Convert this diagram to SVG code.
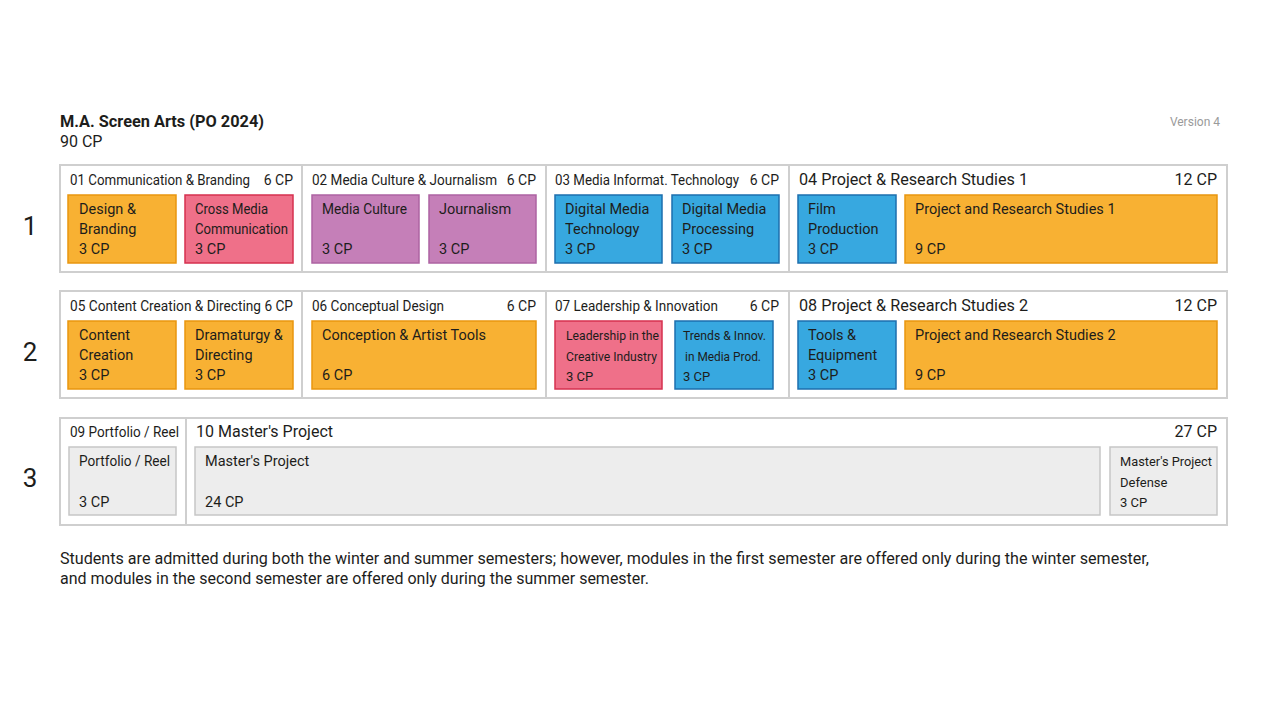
<svg xmlns="http://www.w3.org/2000/svg" width="1272" height="716" viewBox="0 0 1272 716">
<style>
text{font-family:Roboto,"Liberation Sans",sans-serif;fill:#1d1d1b}
.frame{fill:#fff;stroke:#cfcfcf;stroke-width:2}
.div{stroke:#cfcfcf;stroke-width:2}
.hd{font-size:14px}
.hl{font-size:16px}
.t{font-size:14.5px}
.ts{font-size:13px}
.r{text-anchor:end}
.sem{font-size:26px;text-anchor:middle}
.o{fill:#f8b133;stroke:#e9960f;stroke-width:1.5}
.p{fill:#ef7089;stroke:#d6304f;stroke-width:1.5}
.v{fill:#c57fb8;stroke:#ad63a2;stroke-width:1.5}
.b{fill:#37a8e0;stroke:#1d6fae;stroke-width:1.5}
.g{fill:#ededed;stroke:#c6c6c6;stroke-width:1.5}
</style>
<rect width="1272" height="716" fill="#fff"/>
<g id="title">
<text x="60" y="127" style="font-size:16px;font-weight:bold" textLength="204" lengthAdjust="spacingAndGlyphs">M.A. Screen Arts (PO 2024)</text>
<text x="60" y="147" style="font-size:16px">90 CP</text>
<text x="1220" y="126" class="r" style="font-size:12px;fill:#9a9a9a">Version 4</text>
</g>
<g id="semesters">
<text x="30" y="235" class="sem">1</text>
<text x="30" y="361" class="sem">2</text>
<text x="30" y="487" class="sem">3</text>
</g>
<g id="row1">
<rect class="frame" x="60" y="165" width="1167" height="107"/>
<line class="div" x1="302" y1="165" x2="302" y2="272"/>
<line class="div" x1="546" y1="165" x2="546" y2="272"/>
<line class="div" x1="789" y1="165" x2="789" y2="272"/>
</g>
<g id="m01">
<text x="70" y="185" class="hd" textLength="180" lengthAdjust="spacingAndGlyphs">01 Communication &amp; Branding</text>
<text x="293" y="185" class="hd r">6 CP</text>
<g id="n-design"><rect class="o" x="68" y="195" width="108" height="68"/>
<text x="79" y="214" class="t">Design &amp;</text><text x="79" y="234" class="t">Branding</text><text x="79" y="254" class="t">3 CP</text></g>
<g id="n-cross"><rect class="p" x="185" y="195" width="108" height="68"/>
<text x="195" y="214" class="t" textLength="73" lengthAdjust="spacingAndGlyphs">Cross Media</text><text x="195" y="234" class="t" textLength="93" lengthAdjust="spacingAndGlyphs">Communication</text><text x="195" y="254" class="t">3 CP</text></g>
</g>
<g id="m02">
<text x="312" y="185" class="hd" textLength="185" lengthAdjust="spacingAndGlyphs">02 Media Culture &amp; Journalism</text>
<text x="536" y="185" class="hd r">6 CP</text>
<g id="n-mediaculture"><rect class="v" x="312" y="195" width="107" height="68"/>
<text x="322" y="214" class="t" textLength="85" lengthAdjust="spacingAndGlyphs">Media Culture</text><text x="322" y="254" class="t">3 CP</text></g>
<g id="n-journalism"><rect class="v" x="429" y="195" width="107" height="68"/>
<text x="439" y="214" class="t">Journalism</text><text x="439" y="254" class="t">3 CP</text></g>
</g>
<g id="m03">
<text x="555" y="185" class="hd" textLength="184" lengthAdjust="spacingAndGlyphs">03 Media Informat. Technology</text>
<text x="779" y="185" class="hd r">6 CP</text>
<g id="n-dmt"><rect class="b" x="555" y="195" width="107" height="68"/>
<text x="565" y="214" class="t">Digital Media</text><text x="565" y="234" class="t">Technology</text><text x="565" y="254" class="t">3 CP</text></g>
<g id="n-dmp"><rect class="b" x="672" y="195" width="107" height="68"/>
<text x="682" y="214" class="t">Digital Media</text><text x="682" y="234" class="t">Processing</text><text x="682" y="254" class="t">3 CP</text></g>
</g>
<g id="m04">
<text x="799" y="185" class="hl" textLength="229" lengthAdjust="spacingAndGlyphs">04 Project &amp; Research Studies 1</text>
<text x="1217" y="185" class="hl r">12 CP</text>
<g id="n-film"><rect class="b" x="798" y="195" width="98" height="68"/>
<text x="808" y="214" class="t">Film</text><text x="808" y="234" class="t">Production</text><text x="808" y="254" class="t">3 CP</text></g>
<g id="n-prs1"><rect class="o" x="905" y="195" width="312" height="68"/>
<text x="915" y="214" class="t">Project and Research Studies 1</text><text x="915" y="254" class="t">9 CP</text></g>
</g>
<g id="row2">
<rect class="frame" x="60" y="291" width="1167" height="107"/>
<line class="div" x1="302" y1="291" x2="302" y2="398"/>
<line class="div" x1="546" y1="291" x2="546" y2="398"/>
<line class="div" x1="789" y1="291" x2="789" y2="398"/>
</g>
<g id="m05">
<text x="70" y="311" class="hd" textLength="223" lengthAdjust="spacingAndGlyphs">05 Content Creation &amp; Directing 6 CP</text>
<g id="n-content"><rect class="o" x="68" y="321" width="108" height="68"/>
<text x="79" y="340" class="t">Content</text><text x="79" y="360" class="t">Creation</text><text x="79" y="380" class="t">3 CP</text></g>
<g id="n-drama"><rect class="o" x="185" y="321" width="108" height="68"/>
<text x="195" y="340" class="t">Dramaturgy &amp;</text><text x="195" y="360" class="t">Directing</text><text x="195" y="380" class="t">3 CP</text></g>
</g>
<g id="m06">
<text x="312" y="311" class="hd" textLength="132" lengthAdjust="spacingAndGlyphs">06 Conceptual Design</text>
<text x="536" y="311" class="hd r">6 CP</text>
<g id="n-conception"><rect class="o" x="312" y="321" width="224" height="68"/>
<text x="322" y="340" class="t">Conception &amp; Artist Tools</text><text x="322" y="380" class="t">6 CP</text></g>
</g>
<g id="m07">
<text x="555" y="311" class="hd" textLength="163" lengthAdjust="spacingAndGlyphs">07 Leadership &amp; Innovation</text>
<text x="779" y="311" class="hd r">6 CP</text>
<g id="n-leadership"><rect class="p" x="555" y="321" width="107" height="68"/>
<text x="566" y="340" class="ts" textLength="93" lengthAdjust="spacingAndGlyphs">Leadership in the</text><text x="566" y="361" class="ts" textLength="91" lengthAdjust="spacingAndGlyphs">Creative Industry</text><text x="566" y="381" class="ts">3 CP</text></g>
<g id="n-trends"><rect class="b" x="675" y="321" width="98" height="68"/>
<text x="683" y="340" class="ts" textLength="83" lengthAdjust="spacingAndGlyphs">Trends &amp; Innov.</text><text x="685" y="361" class="ts" textLength="76" lengthAdjust="spacingAndGlyphs">in Media Prod.</text><text x="683" y="381" class="ts">3 CP</text></g>
</g>
<g id="m08">
<text x="799" y="311" class="hl" textLength="229" lengthAdjust="spacingAndGlyphs">08 Project &amp; Research Studies 2</text>
<text x="1217" y="311" class="hl r">12 CP</text>
<g id="n-tools"><rect class="b" x="798" y="321" width="98" height="68"/>
<text x="808" y="340" class="t">Tools &amp;</text><text x="808" y="360" class="t">Equipment</text><text x="808" y="380" class="t">3 CP</text></g>
<g id="n-prs2"><rect class="o" x="905" y="321" width="312" height="68"/>
<text x="915" y="340" class="t">Project and Research Studies 2</text><text x="915" y="380" class="t">9 CP</text></g>
</g>
<g id="row3">
<rect class="frame" x="60" y="418" width="1167" height="107"/>
<line class="div" x1="186" y1="418" x2="186" y2="525"/>
</g>
<g id="m09">
<text x="70" y="437" class="hd" textLength="109" lengthAdjust="spacingAndGlyphs">09 Portfolio / Reel</text>
<g id="n-portfolio"><rect class="g" x="69" y="447" width="107" height="68"/>
<text x="79" y="466" class="t" textLength="91" lengthAdjust="spacingAndGlyphs">Portfolio / Reel</text><text x="79" y="507" class="t">3 CP</text></g>
</g>
<g id="m10">
<text x="196" y="437" class="hl" textLength="137" lengthAdjust="spacingAndGlyphs">10 Master's Project</text>
<text x="1217" y="437" class="hl r">27 CP</text>
<g id="n-master"><rect class="g" x="195" y="447" width="905" height="68"/>
<text x="205" y="466" class="t">Master's Project</text><text x="205" y="507" class="t">24 CP</text></g>
<g id="n-defense"><rect class="g" x="1110" y="447" width="107" height="68"/>
<text x="1120" y="466" class="ts" textLength="92" lengthAdjust="spacingAndGlyphs">Master's Project</text><text x="1120" y="487" class="ts">Defense</text><text x="1120" y="507" class="ts">3 CP</text></g>
</g>
<g id="connectors"></g>
<g id="footer">
<text x="60" y="564" style="font-size:16px" textLength="1089" lengthAdjust="spacingAndGlyphs">Students are admitted during both the winter and summer semesters; however, modules in the first semester are offered only during the winter semester,</text>
<text x="60" y="584" style="font-size:16px" textLength="589" lengthAdjust="spacingAndGlyphs">and modules in the second semester are offered only during the summer semester.</text>
</g>
</svg>
